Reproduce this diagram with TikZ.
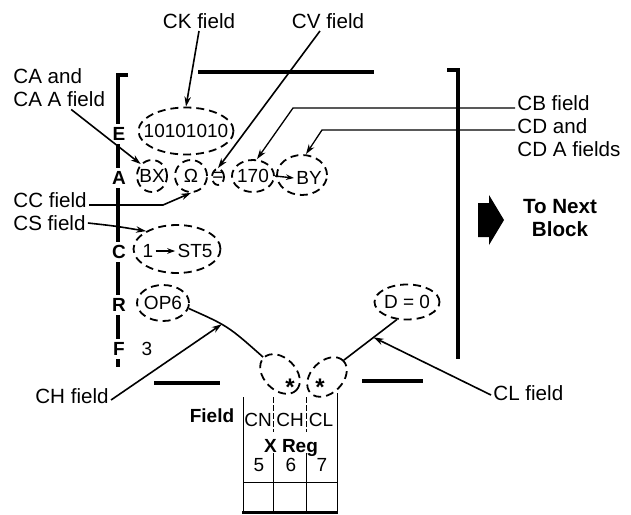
\documentclass[tikz,border=0pt]{standalone}
\usepackage{fontspec}
\setmainfont{Liberation Sans}
\usetikzlibrary{arrows.meta,shapes.geometric}
\newcommand{\zw}[1]{\makebox[0pt]{#1}}
\newcommand{\txtfont}{\fontsize{9.5}{11.5}\selectfont}
\newcommand{\lblfont}{\fontsize{10.3}{11.5}\selectfont}
\begin{document}
\begin{tikzpicture}[x=0.5pt,y=-0.5pt,font=\txtfont,
    fld/.style={ellipse,draw,line width=0.9pt,dash pattern=on 4pt off 2.5pt,inner sep=0pt},
    lbl/.style={font=\lblfont,inner sep=1pt},
    bold/.style={font=\lblfont\bfseries,inner sep=1pt},
    arr/.style={line width=0.8pt,-{Stealth[length=5pt,width=3.2pt]}},
    thinarr/.style={line width=0.65pt,-{Stealth[length=5pt,width=3.2pt]}},
    bar/.style={line width=1.8pt},
    lett/.style={fill=white,inner sep=1.5pt,font=\txtfont\bfseries},
    tab/.style={line width=0.5pt}]
  \useasboundingbox (0,0) rectangle (631,514);
  % frame of the block
  \draw[bar] (128,75) -- (118,75) -- (118,367);
  \draw[bar] (198,72) -- (374,72);
  \draw[bar] (447,70) -- (458,70) -- (458,359);
  \draw[bar] (154,383) -- (220,383);
  \draw[bar] (362,381) -- (423,381);
  \foreach \l/\y in {E/134,A/178,C/252,R/305,F/349}
    \node[lett] (reg\l) at (119,\y) {\l};
  \node (three) at (147,349) {3};
  % fields
  \node[fld,minimum width=47.5pt,minimum height=23.5pt] (ck) at (186,131) {\zw{10101010}};
  \node[fld,minimum width=15pt,minimum height=16pt] (bx) at (152,176) {\zw{BX}};
  \node[fld,minimum width=16pt,minimum height=16pt] (om) at (191,176) {\zw{Ω}};
  \node[fld,minimum width=6pt,minimum height=8pt] (eq) at (218,177) {\zw{=}};
  \node[fld,minimum width=21pt,minimum height=16pt] (n170) at (253,176) {\zw{170}};
  \node[fld,minimum width=25pt,minimum height=20pt] (by) at (302,175) {};
  \node[inner sep=1pt] (byt) at (309,178) {BY};
  \draw[line width=0.7pt,-{Stealth[length=4pt,width=2.8pt]}] (n170.east) -- (byt.west);
  \node[fld,minimum width=43.5pt,minimum height=24pt] (cs) at (177,249) {};
  \node[inner sep=1pt] (one) at (148,251) {1};
  \node[inner sep=1pt] (st5) at (195,251) {ST5};
  \draw[line width=0.7pt,-{Stealth[length=4pt,width=2.8pt]}] (one.east) -- (st5.west);
  \node[fld,minimum width=26pt,minimum height=18pt] (op6) at (163,303) {\zw{OP6}};
  \node[fld,minimum width=32.5pt,minimum height=17.5pt] (d0) at (407,302) {\zw{D = 0}};
  \node[fld,minimum width=23pt,minimum height=16pt,rotate=-45] (ls) at (280,374) {};
  \node[fld,minimum width=23pt,minimum height=16pt,rotate=45] (rs) at (327,377) {};
  \node[font=\fontsize{12}{12}\selectfont\bfseries] (lstar) at (290,387) {*};
  \node[font=\fontsize{12}{12}\selectfont\bfseries] (rstar) at (320,387) {*};
  \draw[line width=0.8pt] (op6.-12) .. controls (228,326) .. (ls.west) coordinate[pos=0.4] (chtip);
  \draw[line width=0.8pt] (d0.240) -- (rs.east) coordinate[pos=0.44] (cltip);
  % X register
  \draw[tab] (243,397) -- (243,513);
  \draw[tab] (337,393) -- (337,513);
  \draw[tab] (243,482) -- (337,482);
  \draw[line width=1.4pt] (242,512.5) -- (338,512.5);
  \foreach \x in {273,306} {
    \draw[tab,dash pattern=on 3pt off 1pt] (\x,397) -- (\x,432);
    \draw[tab] (\x,453) -- (\x,513);
  }
  \node[inner sep=0pt] (cn) at (258,420) {CN};
  \node[inner sep=0pt] (ch) at (290,420) {CH};
  \node[inner sep=0pt] (cl) at (321,420) {CL};
  \node[bold,font=\txtfont\bfseries] (fieldl) at (212,416) {Field};
  \node[bold,font=\txtfont\bfseries] (xreg) at (291,448) {X Reg};
  \foreach \n/\x in {5/259,6/291,7/322}
    \node (col\n) at (\x,465) {\n};
  % labels
  \node[lbl] (ckf) at (199,21) {CK field};
  \node[lbl] (cvf) at (328,21) {CV field};
  \node[lbl,anchor=west,align=left] (caf) at (11,88) {CA and\\CA A field};
  \node[lbl,anchor=west] (ccf) at (11,200) {CC field};
  \node[lbl,anchor=west] (csf) at (11,223) {CS field};
  \node[lbl] (chf) at (72,396) {CH field};
  \node[lbl,anchor=west] (clf) at (491,393) {CL field};
  \node[lbl,anchor=west] (cbf) at (515,103) {CB field};
  \node[lbl,anchor=north west,align=left] (cdf) at (515,116) {CD and\\CD A fields};
  \node[bold,align=center] (nxt) at (560,218) {To Next\\Block};
  \fill (478,203) -- (489,203) -- (489,195) -- (504,220) -- (489,245) -- (489,237) -- (478,237) -- cycle;
  % pointers
  \coordinate (ccbend) at (163,205);
  \coordinate (cbbend) at (293,108);
  \coordinate (cdbend) at (322,130);
  \draw[arr] (ckf.south) -- (ck.north);
  \draw[arr] ([xshift=-4pt]cvf.south) -- (eq.north);
  \draw[arr] ([xshift=6pt]caf.south) -- (bx.north west);
  \draw[arr] ([yshift=-2.5pt]ccf.east) -- (ccbend) -- (om.south);
  \draw[arr] (csf.east) .. controls (115,226) .. (cs.150);
  \draw[thinarr] ([yshift=-2.5pt]cbf.west) -- (cbbend) -- ([xshift=2pt]n170.north);
  \draw[thinarr] ([yshift=-7pt]cdf.north west) -- (cdbend) -- ([xshift=2pt]by.north);
  \draw[arr] ([yshift=-2pt]chf.east) -- (chtip);
  \draw[arr] ([yshift=-1pt]clf.west) -- (cltip);
\end{tikzpicture}
\end{document}
